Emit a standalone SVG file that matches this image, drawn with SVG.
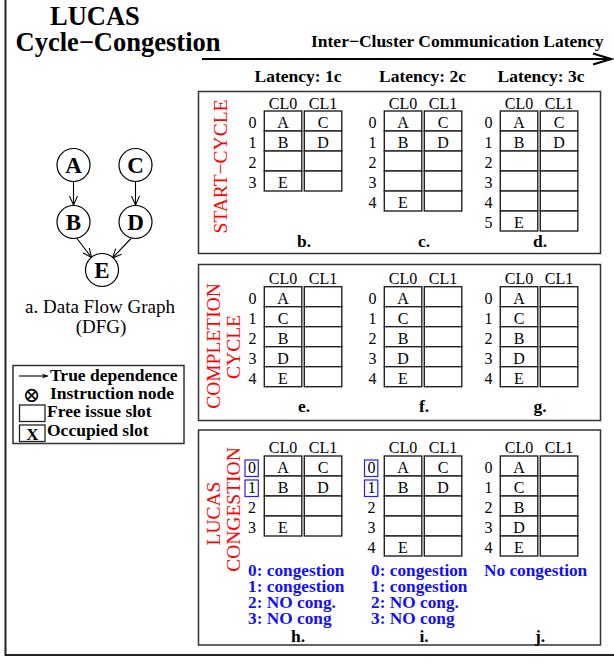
<svg xmlns="http://www.w3.org/2000/svg" width="614" height="663" viewBox="0 0 614 663">
<style>
.t{font-family:"Liberation Serif","Times New Roman",serif;fill:#000}
.b{font-weight:bold}
.cell{fill:#fff;stroke:#222;stroke-width:1.4}
.panel{fill:none;stroke:#333;stroke-width:1.5}
.red{fill:#ff0000;font-family:"Liberation Serif","Times New Roman",serif;font-size:19.5px}
.blue{fill:#1010ff;font-family:"Liberation Serif","Times New Roman",serif;font-size:17.3px;font-weight:bold}
.c16{font-size:16px}
.mid{text-anchor:middle}
.edge{stroke:#000;stroke-width:1.1;fill:none}
.node{fill:#fff;stroke:#000;stroke-width:1.2}
.bbox{fill:none;stroke:#2020ff;stroke-width:1.2}
</style>
<defs>
<marker id="ah" viewBox="0 0 10 10" refX="10" refY="5" markerWidth="9" markerHeight="9" orient="auto" markerUnits="userSpaceOnUse">
<path d="M0,0.5 L10,5 L0,9.5" fill="none" stroke="#000" stroke-width="1.2"/>
</marker>
<marker id="ah2" viewBox="0 0 10 10" refX="10" refY="5" markerWidth="8" markerHeight="6" orient="auto" markerUnits="userSpaceOnUse">
<path d="M0,1 L10,5 L0,9 L3,5 Z" fill="#000"/>
</marker>
</defs>

<!-- outer frame -->
<path d="M5.5,0 V655 H614" fill="none" stroke="#222" stroke-width="2"/>

<!-- title -->
<g id="title">
<text class="t b" x="50" y="25" font-size="26.5">LUCAS</text>
<text class="t b" x="15.5" y="51" font-size="26.5">Cycle−Congestion</text>
<text class="t b" x="311" y="47" font-size="17.5">Inter−Cluster Communication Latency</text>
<line x1="202" y1="59" x2="610" y2="59" stroke="#000" stroke-width="2"/>
<path d="M593,53.5 L611,59 L593,64.5" fill="none" stroke="#000" stroke-width="2"/>
<text class="t b mid" x="298" y="82" font-size="17.5">Latency: 1c</text>
<text class="t b mid" x="422.5" y="82" font-size="17.5">Latency: 2c</text>
<text class="t b mid" x="541" y="82" font-size="17.5">Latency: 3c</text>
</g>

<!-- DFG -->
<g id="dfg-edges">
<line class="edge" x1="73.5" y1="182" x2="73.5" y2="205" marker-end="url(#ah)"/>
<line class="edge" x1="135.5" y1="182" x2="135.5" y2="205" marker-end="url(#ah)"/>
<line class="edge" x1="77" y1="238.5" x2="91.5" y2="257.5" marker-end="url(#ah)"/>
<line class="edge" x1="131" y1="238.5" x2="112.5" y2="258" marker-end="url(#ah)"/>
</g>
<g id="node-A"><circle class="node" cx="73.5" cy="165" r="16.5"/><text class="t b mid" x="73.5" y="173" font-size="23">A</text></g>
<g id="node-C"><circle class="node" cx="135.5" cy="165" r="16.5"/><text class="t b mid" x="135.5" y="173" font-size="23">C</text></g>
<g id="node-B"><circle class="node" cx="73.5" cy="222" r="16.5"/><text class="t b mid" x="73.5" y="230" font-size="23">B</text></g>
<g id="node-D"><circle class="node" cx="135.5" cy="222" r="16.5"/><text class="t b mid" x="135.5" y="230" font-size="23">D</text></g>
<g id="node-E"><circle class="node" cx="102" cy="270" r="16.5"/><text class="t b mid" x="102" y="278" font-size="23">E</text></g>
<text class="t mid" x="100" y="313" font-size="19">a. Data Flow Graph</text>
<text class="t mid" x="101" y="333" font-size="19">(DFG)</text>

<!-- legend -->
<g id="legend">
<rect x="13" y="365.5" width="171" height="78" fill="none" stroke="#333" stroke-width="1.5"/>
<line x1="19" y1="376" x2="48" y2="376" stroke="#000" stroke-width="1.1" marker-end="url(#ah2)"/>
<text class="t b" x="50" y="381" font-size="17.5">True dependence</text>
<text x="31.5" y="402" font-size="21" font-family="DejaVu Serif,DejaVu Sans,serif" text-anchor="middle">⊗</text>
<text class="t b" x="50" y="399" font-size="17.5">Instruction node</text>
<rect x="19.5" y="405" width="25.5" height="16.5" fill="#fff" stroke="#222" stroke-width="1.3"/>
<text class="t b" x="47" y="417" font-size="17.5">Free issue slot</text>
<rect x="19.5" y="425" width="25.5" height="16.5" fill="#fff" stroke="#222" stroke-width="1.3"/>
<text class="t b mid" x="32.3" y="440" font-size="17">X</text>
<text class="t b" x="47" y="435.5" font-size="17.5">Occupied slot</text>
</g>

<!-- panel 1: start cycle -->
<g id="panel-start">
<rect class="panel" x="198.5" y="91.5" width="402" height="162"/>
<text class="red mid" transform="translate(226.5,166.5) rotate(-90)">START−CYCLE</text>
</g>
<!-- b -->
<g id="table-b">
<text class="t c16 mid" x="283" y="109">CL0</text><text class="t c16 mid" x="323" y="109">CL1</text>
<rect class="cell" x="264.3" y="111" width="37.5" height="20"/><rect class="cell" x="304.3" y="111" width="37.5" height="20"/>
<rect class="cell" x="264.3" y="131" width="37.5" height="20"/><rect class="cell" x="304.3" y="131" width="37.5" height="20"/>
<rect class="cell" x="264.3" y="151" width="37.5" height="20"/><rect class="cell" x="304.3" y="151" width="37.5" height="20"/>
<rect class="cell" x="264.3" y="171" width="37.5" height="20"/><rect class="cell" x="304.3" y="171" width="37.5" height="20"/>
<g class="t c16 mid">
<text x="252.5" y="128">0</text><text x="252.5" y="148">1</text><text x="252.5" y="168">2</text><text x="252.5" y="188">3</text>
<text x="283" y="128">A</text><text x="323" y="128">C</text>
<text x="283" y="148">B</text><text x="323" y="148">D</text>
<text x="283" y="188">E</text>
</g>
<text class="t b mid" x="304" y="246.5" font-size="17.5">b.</text>
</g>
<!-- c -->
<g id="table-c">
<text class="t c16 mid" x="403" y="109">CL0</text><text class="t c16 mid" x="443" y="109">CL1</text>
<rect class="cell" x="384.3" y="111" width="37.5" height="20"/><rect class="cell" x="424.3" y="111" width="37.5" height="20"/>
<rect class="cell" x="384.3" y="131" width="37.5" height="20"/><rect class="cell" x="424.3" y="131" width="37.5" height="20"/>
<rect class="cell" x="384.3" y="151" width="37.5" height="20"/><rect class="cell" x="424.3" y="151" width="37.5" height="20"/>
<rect class="cell" x="384.3" y="171" width="37.5" height="20"/><rect class="cell" x="424.3" y="171" width="37.5" height="20"/>
<rect class="cell" x="384.3" y="191" width="37.5" height="20"/><rect class="cell" x="424.3" y="191" width="37.5" height="20"/>
<g class="t c16 mid">
<text x="372.5" y="128">0</text><text x="372.5" y="148">1</text><text x="372.5" y="168">2</text><text x="372.5" y="188">3</text><text x="372.5" y="208">4</text>
<text x="403" y="128">A</text><text x="443" y="128">C</text>
<text x="403" y="148">B</text><text x="443" y="148">D</text>
<text x="403" y="208">E</text>
</g>
<text class="t b mid" x="424" y="246.5" font-size="17.5">c.</text>
</g>
<!-- d -->
<g id="table-d">
<text class="t c16 mid" x="519" y="109">CL0</text><text class="t c16 mid" x="559" y="109">CL1</text>
<rect class="cell" x="500.3" y="111" width="37.5" height="20"/><rect class="cell" x="540.3" y="111" width="37.5" height="20"/>
<rect class="cell" x="500.3" y="131" width="37.5" height="20"/><rect class="cell" x="540.3" y="131" width="37.5" height="20"/>
<rect class="cell" x="500.3" y="151" width="37.5" height="20"/><rect class="cell" x="540.3" y="151" width="37.5" height="20"/>
<rect class="cell" x="500.3" y="171" width="37.5" height="20"/><rect class="cell" x="540.3" y="171" width="37.5" height="20"/>
<rect class="cell" x="500.3" y="191" width="37.5" height="20"/><rect class="cell" x="540.3" y="191" width="37.5" height="20"/>
<rect class="cell" x="500.3" y="211" width="37.5" height="20"/><rect class="cell" x="540.3" y="211" width="37.5" height="20"/>
<g class="t c16 mid">
<text x="488.5" y="128">0</text><text x="488.5" y="148">1</text><text x="488.5" y="168">2</text><text x="488.5" y="188">3</text><text x="488.5" y="208">4</text><text x="488.5" y="228">5</text>
<text x="519" y="128">A</text><text x="559" y="128">C</text>
<text x="519" y="148">B</text><text x="559" y="148">D</text>
<text x="519" y="228">E</text>
</g>
<text class="t b mid" x="540" y="246.5" font-size="17.5">d.</text>
</g>

<!-- panel 2: completion cycle -->
<g id="panel-completion">
<rect class="panel" x="198.5" y="264.5" width="402" height="156"/>
<text class="red mid" transform="translate(220,346) rotate(-90)">COMPLETION</text>
<text class="red mid" transform="translate(240,347) rotate(-90)">CYCLE</text>
</g>
<g id="table-e">
<text class="t c16 mid" x="283" y="283.5">CL0</text><text class="t c16 mid" x="323" y="283.5">CL1</text>
<rect class="cell" x="264.3" y="286.7" width="37.5" height="20"/><rect class="cell" x="304.3" y="286.7" width="37.5" height="20"/>
<rect class="cell" x="264.3" y="306.7" width="37.5" height="20"/><rect class="cell" x="304.3" y="306.7" width="37.5" height="20"/>
<rect class="cell" x="264.3" y="326.7" width="37.5" height="20"/><rect class="cell" x="304.3" y="326.7" width="37.5" height="20"/>
<rect class="cell" x="264.3" y="346.7" width="37.5" height="20"/><rect class="cell" x="304.3" y="346.7" width="37.5" height="20"/>
<rect class="cell" x="264.3" y="366.7" width="37.5" height="20"/><rect class="cell" x="304.3" y="366.7" width="37.5" height="20"/>
<g class="t c16 mid">
<text x="252.5" y="303.7">0</text><text x="252.5" y="323.7">1</text><text x="252.5" y="343.7">2</text><text x="252.5" y="363.7">3</text><text x="252.5" y="383.7">4</text>
<text x="283" y="303.7">A</text><text x="283" y="323.7">C</text><text x="283" y="343.7">B</text><text x="283" y="363.7">D</text><text x="283" y="383.7">E</text>
</g>
<text class="t b mid" x="304" y="411.5" font-size="17.5">e.</text>
</g>
<g id="table-f">
<text class="t c16 mid" x="403" y="283.5">CL0</text><text class="t c16 mid" x="443" y="283.5">CL1</text>
<rect class="cell" x="384.3" y="286.7" width="37.5" height="20"/><rect class="cell" x="424.3" y="286.7" width="37.5" height="20"/>
<rect class="cell" x="384.3" y="306.7" width="37.5" height="20"/><rect class="cell" x="424.3" y="306.7" width="37.5" height="20"/>
<rect class="cell" x="384.3" y="326.7" width="37.5" height="20"/><rect class="cell" x="424.3" y="326.7" width="37.5" height="20"/>
<rect class="cell" x="384.3" y="346.7" width="37.5" height="20"/><rect class="cell" x="424.3" y="346.7" width="37.5" height="20"/>
<rect class="cell" x="384.3" y="366.7" width="37.5" height="20"/><rect class="cell" x="424.3" y="366.7" width="37.5" height="20"/>
<g class="t c16 mid">
<text x="372.5" y="303.7">0</text><text x="372.5" y="323.7">1</text><text x="372.5" y="343.7">2</text><text x="372.5" y="363.7">3</text><text x="372.5" y="383.7">4</text>
<text x="403" y="303.7">A</text><text x="403" y="323.7">C</text><text x="403" y="343.7">B</text><text x="403" y="363.7">D</text><text x="403" y="383.7">E</text>
</g>
<text class="t b mid" x="424" y="411.5" font-size="17.5">f.</text>
</g>
<g id="table-g">
<text class="t c16 mid" x="519" y="283.5">CL0</text><text class="t c16 mid" x="559" y="283.5">CL1</text>
<rect class="cell" x="500.3" y="286.7" width="37.5" height="20"/><rect class="cell" x="540.3" y="286.7" width="37.5" height="20"/>
<rect class="cell" x="500.3" y="306.7" width="37.5" height="20"/><rect class="cell" x="540.3" y="306.7" width="37.5" height="20"/>
<rect class="cell" x="500.3" y="326.7" width="37.5" height="20"/><rect class="cell" x="540.3" y="326.7" width="37.5" height="20"/>
<rect class="cell" x="500.3" y="346.7" width="37.5" height="20"/><rect class="cell" x="540.3" y="346.7" width="37.5" height="20"/>
<rect class="cell" x="500.3" y="366.7" width="37.5" height="20"/><rect class="cell" x="540.3" y="366.7" width="37.5" height="20"/>
<g class="t c16 mid">
<text x="488.5" y="303.7">0</text><text x="488.5" y="323.7">1</text><text x="488.5" y="343.7">2</text><text x="488.5" y="363.7">3</text><text x="488.5" y="383.7">4</text>
<text x="519" y="303.7">A</text><text x="519" y="323.7">C</text><text x="519" y="343.7">B</text><text x="519" y="363.7">D</text><text x="519" y="383.7">E</text>
</g>
<text class="t b mid" x="540" y="411.5" font-size="17.5">g.</text>
</g>

<!-- panel 3: LUCAS congestion -->
<g id="panel-lucas">
<rect class="panel" x="198.5" y="430" width="402" height="215"/>
<text class="red mid" transform="translate(220,513.5) rotate(-90)">LUCAS</text>
<text class="red mid" transform="translate(239.5,509.5) rotate(-90)">CONGESTION</text>
</g>
<g id="table-h">
<text class="t c16 mid" x="283" y="453">CL0</text><text class="t c16 mid" x="323" y="453">CL1</text>
<rect class="cell" x="264.3" y="456" width="37.5" height="20"/><rect class="cell" x="304.3" y="456" width="37.5" height="20"/>
<rect class="cell" x="264.3" y="476" width="37.5" height="20"/><rect class="cell" x="304.3" y="476" width="37.5" height="20"/>
<rect class="cell" x="264.3" y="496" width="37.5" height="20"/><rect class="cell" x="304.3" y="496" width="37.5" height="20"/>
<rect class="cell" x="264.3" y="516" width="37.5" height="20"/><rect class="cell" x="304.3" y="516" width="37.5" height="20"/>
<rect class="bbox" x="245" y="460" width="13.3" height="16.5"/>
<rect class="bbox" x="245" y="480" width="13.3" height="16.5"/>
<g class="t c16 mid">
<text x="252" y="473">0</text><text x="252" y="493">1</text><text x="252" y="513">2</text><text x="252" y="533">3</text>
<text x="283" y="473">A</text><text x="323" y="473">C</text>
<text x="283" y="493">B</text><text x="323" y="493">D</text>
<text x="283" y="533">E</text>
</g>
<text class="blue" x="248" y="576">0: congestion</text>
<text class="blue" x="248" y="592">1: congestion</text>
<text class="blue" x="248" y="608">2: NO cong.</text>
<text class="blue" x="248" y="624">3: NO cong</text>
<text class="t b mid" x="298" y="641.5" font-size="17.5">h.</text>
</g>
<g id="table-i">
<text class="t c16 mid" x="403" y="453">CL0</text><text class="t c16 mid" x="443" y="453">CL1</text>
<rect class="cell" x="384.3" y="456" width="37.5" height="20"/><rect class="cell" x="424.3" y="456" width="37.5" height="20"/>
<rect class="cell" x="384.3" y="476" width="37.5" height="20"/><rect class="cell" x="424.3" y="476" width="37.5" height="20"/>
<rect class="cell" x="384.3" y="496" width="37.5" height="20"/><rect class="cell" x="424.3" y="496" width="37.5" height="20"/>
<rect class="cell" x="384.3" y="516" width="37.5" height="20"/><rect class="cell" x="424.3" y="516" width="37.5" height="20"/>
<rect class="cell" x="384.3" y="536" width="37.5" height="20"/><rect class="cell" x="424.3" y="536" width="37.5" height="20"/>
<rect class="bbox" x="364.5" y="460" width="13.3" height="16.5"/>
<rect class="bbox" x="364.5" y="480" width="13.3" height="16.5"/>
<g class="t c16 mid">
<text x="371.5" y="473">0</text><text x="371.5" y="493">1</text><text x="371.5" y="513">2</text><text x="371.5" y="533">3</text><text x="371.5" y="553">4</text>
<text x="403" y="473">A</text><text x="443" y="473">C</text>
<text x="403" y="493">B</text><text x="443" y="493">D</text>
<text x="403" y="553">E</text>
</g>
<text class="blue" x="371" y="576">0: congestion</text>
<text class="blue" x="371" y="592">1: congestion</text>
<text class="blue" x="371" y="608">2: NO cong.</text>
<text class="blue" x="371" y="624">3: NO cong</text>
<text class="t b mid" x="424" y="641.5" font-size="17.5">i.</text>
</g>
<g id="table-j">
<text class="t c16 mid" x="519" y="453">CL0</text><text class="t c16 mid" x="559" y="453">CL1</text>
<rect class="cell" x="500.3" y="456" width="37.5" height="20"/><rect class="cell" x="540.3" y="456" width="37.5" height="20"/>
<rect class="cell" x="500.3" y="476" width="37.5" height="20"/><rect class="cell" x="540.3" y="476" width="37.5" height="20"/>
<rect class="cell" x="500.3" y="496" width="37.5" height="20"/><rect class="cell" x="540.3" y="496" width="37.5" height="20"/>
<rect class="cell" x="500.3" y="516" width="37.5" height="20"/><rect class="cell" x="540.3" y="516" width="37.5" height="20"/>
<rect class="cell" x="500.3" y="536" width="37.5" height="20"/><rect class="cell" x="540.3" y="536" width="37.5" height="20"/>
<g class="t c16 mid">
<text x="488.5" y="473">0</text><text x="488.5" y="493">1</text><text x="488.5" y="513">2</text><text x="488.5" y="533">3</text><text x="488.5" y="553">4</text>
<text x="519" y="473">A</text><text x="519" y="493">C</text><text x="519" y="513">B</text><text x="519" y="533">D</text><text x="519" y="553">E</text>
</g>
<text class="blue" x="484" y="576">No congestion</text>
<text class="t b mid" x="540" y="641.5" font-size="17.5">j.</text>
</g>
</svg>
